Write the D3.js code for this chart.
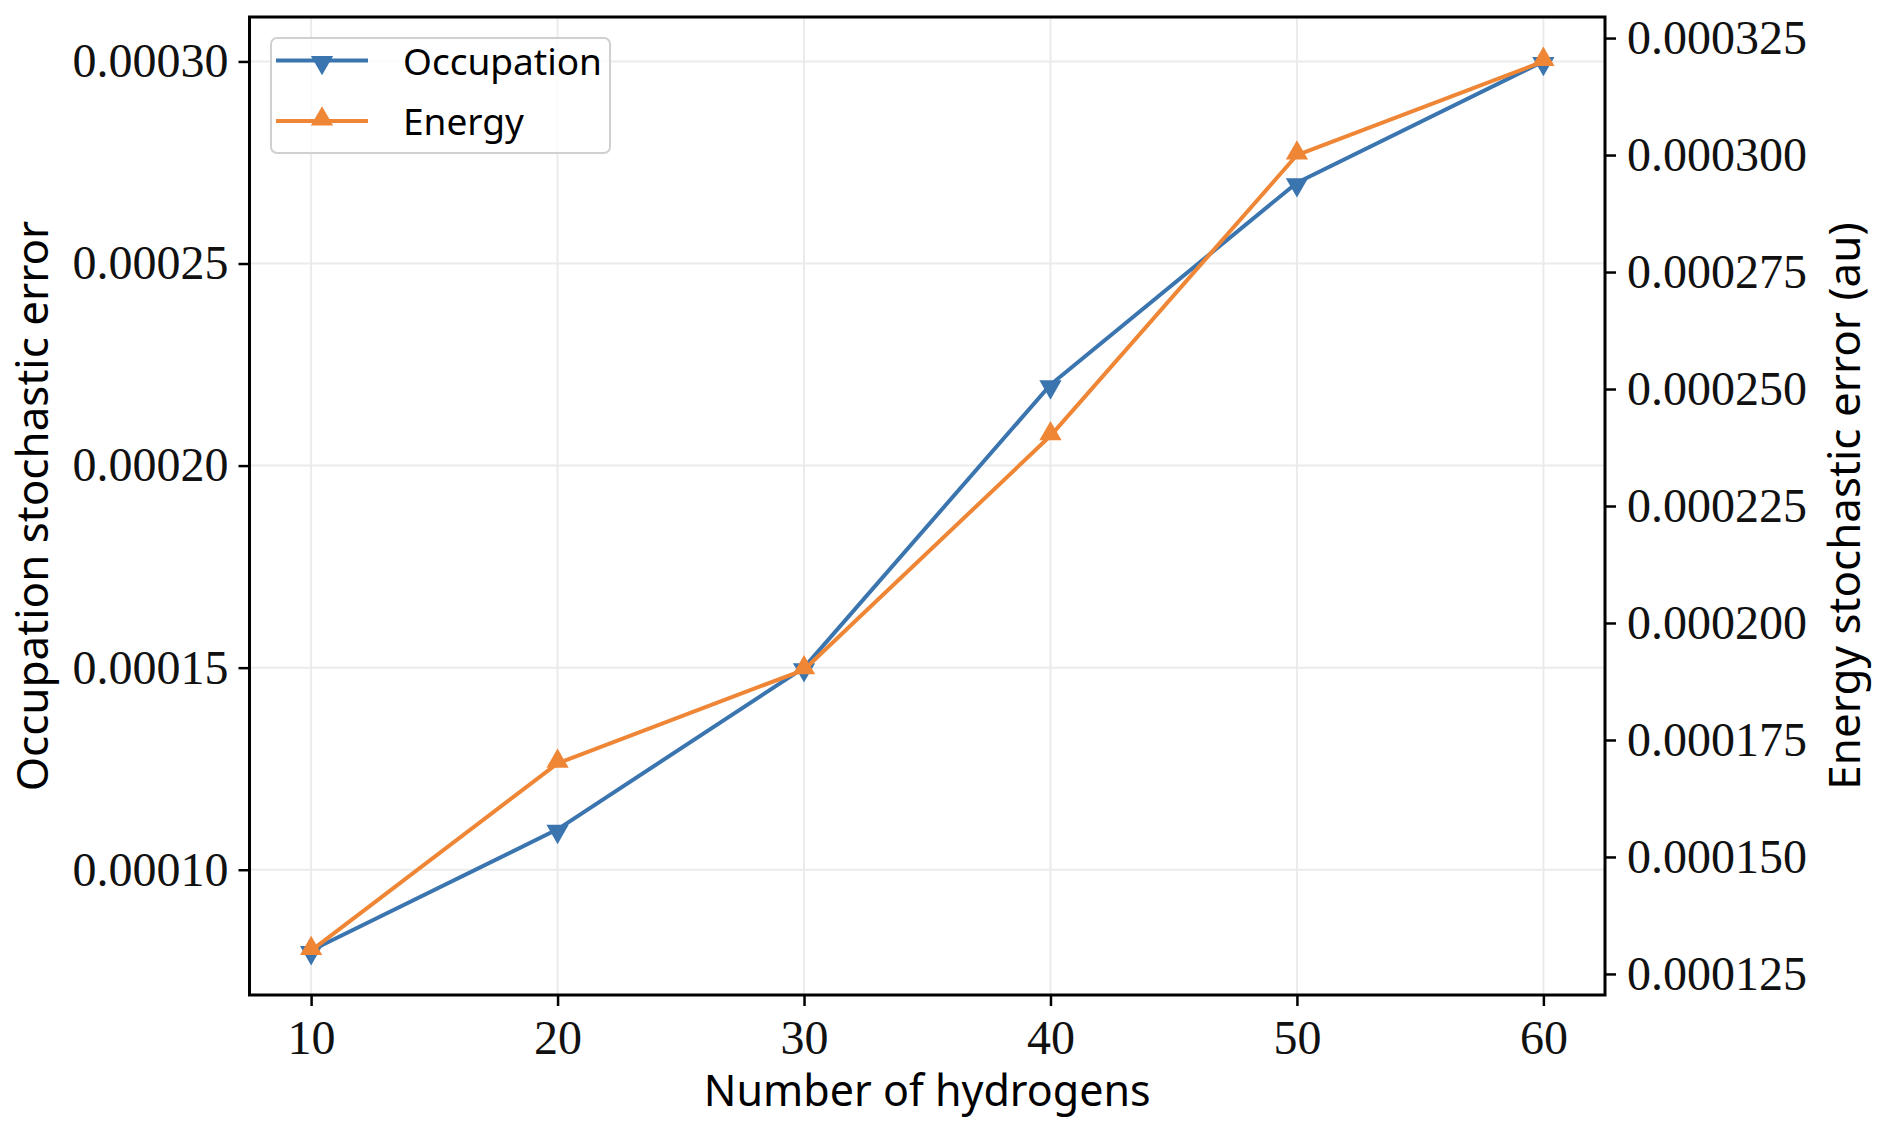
<!DOCTYPE html>
<html>
<head>
<meta charset="utf-8">
<script src="https://cdn.jsdelivr.net/npm/d3@7"></script>
<style>
  html, body { margin: 0; padding: 0; background: #fff; }
  svg { display: block; }
</style>
</head>
<body>
<svg id="chart" width="1884" height="1136"></svg>
<script>
// ---- data ----
const hydrogens = [10, 20, 30, 40, 50, 60];
const occupationError = [0.00008, 0.00011, 0.00015, 0.00022, 0.00027, 0.00030];
const energyError = [0.00013, 0.00017, 0.00019, 0.00024, 0.00030, 0.00032];
const xTicks = [10, 20, 30, 40, 50, 60];
const leftTicks = [0.00010, 0.00015, 0.00020, 0.00025, 0.00030];
const rightTicks = [0.000125, 0.000150, 0.000175, 0.000200, 0.000225, 0.000250, 0.000275, 0.000300, 0.000325];
const seriesNames = ["Occupation", "Energy"];

// ---- layout ----
const m = { left: 249.5, top: 17, right: 1605, bottom: 995 };
const blue = "#3b75af", orange = "#ef8636";
const serif = "'Liberation Serif', 'DejaVu Serif', serif";
const sans = "'Noto Sans', 'DejaVu Sans', sans-serif";

const svg = d3.select("#chart");

function padDomain(vals) {
  const lo = d3.min(vals), hi = d3.max(vals), p = (hi - lo) * 0.05;
  return [lo - p, hi + p];
}

const x = d3.scaleLinear().domain(padDomain(hydrogens)).range([m.left, m.right]);
const yL = d3.scaleLinear().domain(padDomain(occupationError)).range([m.bottom, m.top]);
const yR = d3.scaleLinear().domain(padDomain(energyError)).range([m.bottom, m.top]);

// grid
const grid = svg.append("g");
grid.selectAll("line.gx").data(xTicks).join("line")
  .attr("x1", d => x(d)).attr("x2", d => x(d))
  .attr("y1", m.top).attr("y2", m.bottom)
  .attr("stroke", "#ebebeb").attr("stroke-width", 2);
grid.selectAll("line.gy").data(leftTicks).join("line")
  .attr("x1", m.left).attr("x2", m.right)
  .attr("y1", d => yL(d)).attr("y2", d => yL(d))
  .attr("stroke", "#ebebeb").attr("stroke-width", 2);

// axes
function styleAxis(g) {
  g.select(".domain").remove();
  g.selectAll(".tick line").attr("stroke", "#000").attr("stroke-width", 2.5);
  g.selectAll(".tick text").attr("fill", "#111").style("font-family", serif).style("font-size", "48px");
}

const xAxis = svg.append("g").attr("transform", `translate(0,${m.bottom})`)
  .call(d3.axisBottom(x).tickValues(xTicks).tickSize(11).tickPadding(14).tickFormat(d3.format("d")));
styleAxis(xAxis);

const lAxis = svg.append("g").attr("transform", `translate(${m.left},0)`)
  .call(d3.axisLeft(yL).tickValues(leftTicks).tickSize(11).tickPadding(10).tickFormat(d3.format(".5f")));
styleAxis(lAxis);

const rAxis = svg.append("g").attr("transform", `translate(${m.right},0)`)
  .call(d3.axisRight(yR).tickValues(rightTicks).tickSize(11).tickPadding(11).tickFormat(d3.format(".6f")));
styleAxis(rAxis);

// lines
const lineL = d3.line().x((d, i) => x(hydrogens[i])).y(d => yL(d));
const lineR = d3.line().x((d, i) => x(hydrogens[i])).y(d => yR(d));
const tri = d3.symbol().type(d3.symbolTriangle).size(215);

svg.append("path").datum(occupationError).attr("d", lineL)
  .attr("fill", "none").attr("stroke", blue).attr("stroke-width", 4).attr("stroke-linejoin", "round");
svg.append("g").selectAll("path").data(occupationError).join("path")
  .attr("d", tri)
  .attr("transform", (d, i) => `translate(${x(hydrogens[i])},${yL(d) + 2}) rotate(180)`)
  .attr("fill", blue);

svg.append("path").datum(energyError).attr("d", lineR)
  .attr("fill", "none").attr("stroke", orange).attr("stroke-width", 4).attr("stroke-linejoin", "round");
svg.append("g").selectAll("path").data(energyError).join("path")
  .attr("d", tri)
  .attr("transform", (d, i) => `translate(${x(hydrogens[i])},${yR(d) - 2})`)
  .attr("fill", orange);

// frame
svg.append("rect").attr("x", m.left).attr("y", m.top)
  .attr("width", m.right - m.left).attr("height", m.bottom - m.top)
  .attr("fill", "none").attr("stroke", "#000").attr("stroke-width", 3);

// axis labels
svg.append("text").attr("x", (m.left + m.right) / 2).attr("y", 1106)
  .attr("text-anchor", "middle").style("font-family", sans).style("font-size", "43px")
  .text("Number of hydrogens");
svg.append("text").attr("transform", `translate(48,${(m.top + m.bottom) / 2}) rotate(-90)`)
  .attr("text-anchor", "middle").style("font-family", sans).style("font-size", "44px")
  .text("Occupation stochastic error");
svg.append("text").attr("transform", `translate(1860,${(m.top + m.bottom) / 2}) rotate(-90)`)
  .attr("text-anchor", "middle").style("font-family", sans).style("font-size", "44px")
  .text("Energy stochastic error (au)");

// legend
const leg = svg.append("g");
leg.append("rect").attr("x", 271).attr("y", 38).attr("width", 339).attr("height", 115)
  .attr("rx", 6).attr("fill", "#fff").attr("fill-opacity", 0.8)
  .attr("stroke", "#d0d0d0").attr("stroke-width", 2);
const legColors = [blue, orange];
const legRot = [180, 0];
const legOff = [2, -2];
seriesNames.forEach((name, i) => {
  const ly = 60.5 + i * 60.5;
  leg.append("line").attr("x1", 276).attr("x2", 368).attr("y1", ly).attr("y2", ly)
    .attr("stroke", legColors[i]).attr("stroke-width", 4);
  leg.append("path").attr("d", tri)
    .attr("transform", `translate(322,${ly + legOff[i]}) rotate(${legRot[i]})`)
    .attr("fill", legColors[i]);
  leg.append("text").attr("x", 403).attr("y", ly + 14)
    .style("font-family", sans).style("font-size", "37px").text(name);
});
</script>
</body>
</html>
